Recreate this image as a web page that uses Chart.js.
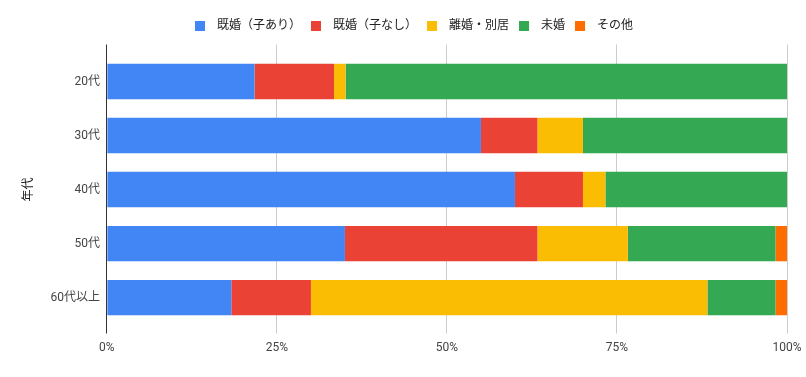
<!DOCTYPE html>
<html>
<head>
<meta charset="utf-8">
<script src="https://cdn.jsdelivr.net/npm/chart.js@4/dist/chart.umd.min.js"></script>
<style>
  html, body { margin: 0; padding: 0; background: #fff; }
  #wrap { width: 806px; height: 377px; }
</style>
</head>
<body>
<div id="wrap"><canvas id="chart" width="806" height="377"></canvas></div>
<script>
// ===== Data =====
const ageGroups = ['20代', '30代', '40代', '50代', '60代以上'];
const seriesNames = ['既婚（子あり）', '既婚（子なし）', '離婚・別居', '未婚', 'その他'];
const marriedKids   = [21.7, 55.0, 60.0, 35.0, 18.3];
const marriedNoKids = [11.7,  8.3, 10.0, 28.3, 11.7];
const divorced      = [ 1.7,  6.7,  3.3, 13.3, 58.3];
const single        = [64.9, 30.0, 26.7, 21.7, 10.0];
const other         = [ 0.0,  0.0,  0.0,  1.7,  1.7];
const xTicks = [0, 25, 50, 75, 100];

const colors = ['#4285F4', '#EA4335', '#FBBC04', '#34A853', '#FF6D01'];
const values = [marriedKids, marriedNoKids, divorced, single, other];

const font = "Roboto, 'Noto Sans CJK JP', sans-serif";
const gridColor = ctx => (ctx.tick && ctx.tick.value === 0) ? '#333333' : '#cccccc';

// legend swatch: 10px square with some empty room on the right (wider gap to text)
function swatch(color) {
  const c = document.createElement('canvas');
  c.width = 16; c.height = 10;
  const g = c.getContext('2d');
  g.fillStyle = color;
  g.fillRect(0, 0, 10, 10);
  return c;
}
const swatches = colors.map(swatch);

new Chart(document.getElementById('chart').getContext('2d'), {
  type: 'bar',
  data: {
    labels: ageGroups,
    datasets: seriesNames.map((name, i) => ({
      label: name,
      data: values[i],
      backgroundColor: colors[i],
      borderWidth: 0,
      categoryPercentage: 0.655,
      barPercentage: 1.0,
      xAxisID: 'x'
    }))
  },
  options: {
    indexAxis: 'y',
    responsive: false,
    animation: false,
    layout: { padding: { left: 22, right: 0, top: 9.5, bottom: 15 } },
    plugins: {
      legend: {
        position: 'top',
        labels: {
          font: { family: font, size: 12 },
          color: '#222',
          usePointStyle: true,
          pointStyleWidth: 16,
          boxHeight: 10,
          padding: 10,
          generateLabels: chart => {
            const items = Chart.defaults.plugins.legend.labels.generateLabels(chart);
            items.forEach((it, i) => { it.pointStyle = swatches[i]; });
            return items;
          }
        }
      },
      tooltip: { enabled: false }
    },
    scales: {
      x: {
        stacked: true,
        position: 'bottom',
        min: 0,
        max: 100,
        afterBuildTicks: axis => { axis.ticks = xTicks.map(v => ({ value: v })); },
        afterFit: axis => { axis.paddingRight = 19; },
        ticks: {
          callback: v => v + '%',
          font: { family: font, size: 12 },
          color: '#444',
          padding: 7
        },
        grid: { color: gridColor, tickColor: gridColor, drawTicks: true, tickLength: 9 },
        border: { display: false }
      },
      x2: {
        position: 'top',
        min: 0,
        max: 100,
        afterBuildTicks: axis => { axis.ticks = xTicks.map(v => ({ value: v })); },
        afterFit: axis => { axis.height = 13; axis.paddingRight = 19; },
        ticks: { display: false },
        grid: { drawOnChartArea: false, drawTicks: true, tickLength: 10, tickColor: gridColor },
        border: { display: false }
      },
      y: {
        stacked: true,
        ticks: {
          font: { family: font, size: 12 },
          color: '#444',
          padding: 7
        },
        grid: { display: false, drawTicks: false },
        border: { display: false },
        title: {
          display: true,
          text: '年代',
          font: { family: font, size: 12 },
          color: '#222',
          padding: { top: 0, bottom: 7 }
        }
      }
    }
  }
});
</script>
</body>
</html>
